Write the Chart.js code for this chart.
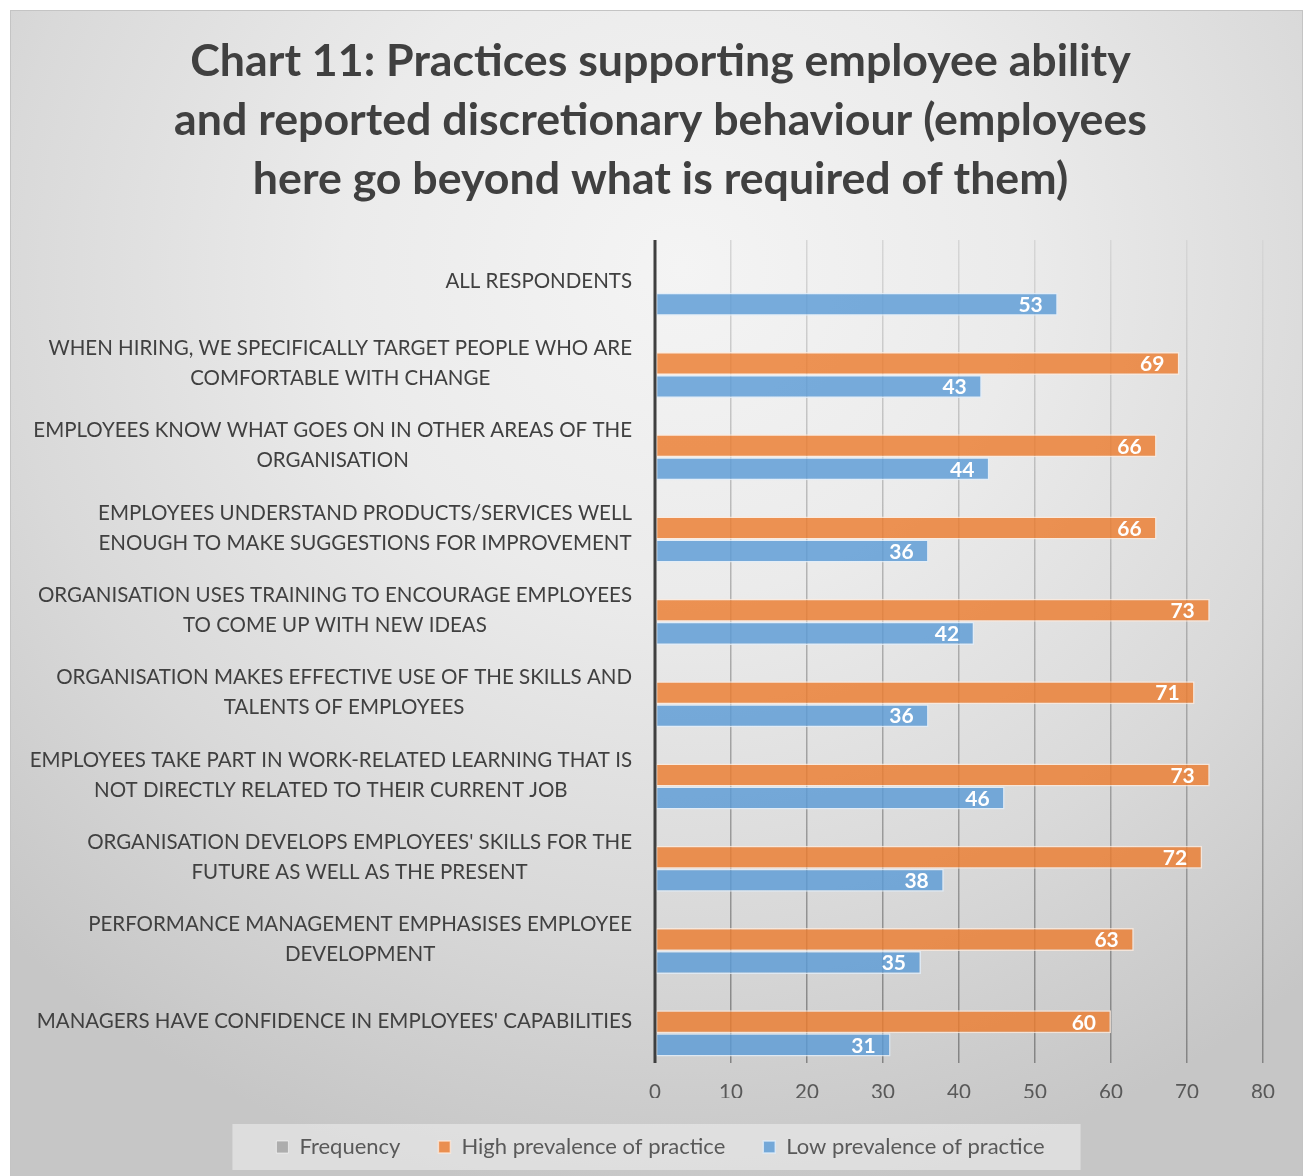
<!DOCTYPE html>
<html>
<head>
<meta charset="utf-8">
<title>Chart 11</title>
<script src="https://cdn.jsdelivr.net/npm/chart.js@4.4.1/dist/chart.umd.min.js"></script>
<style>
  html, body { margin: 0; padding: 0; background: #ffffff; }
  #frame {
    position: absolute; left: 10px; top: 10px; width: 1293px; height: 1170px;
    border: 1px solid #c4c4c4; box-sizing: border-box;
    background: radial-gradient(ellipse 75% 80% at 52% 22%, #f4f4f4 0%, #ebebeb 35%, #d9d9d9 70%, #c6c6c6 100%);
  }
  #wrap { position: absolute; left: 0; top: 0; width: 1309px; height: 1176px; }
</style>
</head>
<body>
<div id="frame"></div>
<div id="wrap"><canvas id="chart" width="1309" height="1176"></canvas></div>
<script>
// Chart 11: practices supporting employee ability vs. discretionary behaviour
const titleLines = [
  'Chart 11: Practices supporting employee ability',
  'and reported discretionary behaviour (employees',
  'here go beyond what is required of them)'
];

const categories = [
  ['ALL RESPONDENTS'],
  ['WHEN HIRING, WE SPECIFICALLY TARGET PEOPLE WHO ARE', 'COMFORTABLE WITH CHANGE'],
  ['EMPLOYEES KNOW WHAT GOES ON IN OTHER AREAS OF THE', 'ORGANISATION'],
  ['EMPLOYEES UNDERSTAND PRODUCTS/SERVICES WELL', 'ENOUGH TO MAKE SUGGESTIONS FOR IMPROVEMENT'],
  ['ORGANISATION USES TRAINING TO ENCOURAGE EMPLOYEES', 'TO COME UP WITH NEW IDEAS'],
  ['ORGANISATION MAKES EFFECTIVE USE OF THE SKILLS AND', 'TALENTS OF EMPLOYEES'],
  ['EMPLOYEES TAKE PART IN WORK-RELATED LEARNING THAT IS', 'NOT DIRECTLY RELATED TO THEIR CURRENT JOB'],
  ["ORGANISATION DEVELOPS EMPLOYEES' SKILLS FOR THE", 'FUTURE AS WELL AS THE PRESENT'],
  ['PERFORMANCE MANAGEMENT EMPHASISES EMPLOYEE', 'DEVELOPMENT'],
  ["MANAGERS HAVE CONFIDENCE IN EMPLOYEES' CAPABILITIES"]
];

const seriesNames = ['Frequency', 'High prevalence of practice', 'Low prevalence of practice'];
const frequency = [null, null, null, null, null, null, null, null, null, null];
const highPrevalence = [null, 69, 66, 66, 73, 71, 73, 72, 63, 60];
const lowPrevalence = [53, 43, 44, 36, 42, 36, 46, 38, 35, 31];

const xTicks = [0, 10, 20, 30, 40, 50, 60, 70, 80];

const FONT = 'Lato, "Open Sans", sans-serif';

// Vertical gradient for the value gridlines (pale at the top, darker at the bottom)
function gridGradient(ctx) {
  const chart = ctx.chart;
  const area = chart.chartArea;
  if (!area) return '#bbbbbb';
  const g = chart.ctx.createLinearGradient(0, area.top, 0, area.bottom);
  g.addColorStop(0, '#d6d6d6');
  g.addColorStop(0.5, '#ababab');
  g.addColorStop(1, '#848484');
  return g;
}

// Category labels: each block right-aligned to the axis, its lines centred on each other
const categoryLabelPlugin = {
  id: 'categoryLabels',
  afterDraw(chart) {
    const y = chart.scales.y;
    const ctx = chart.ctx;
    const right = chart.chartArea.left - 23;
    const lineGap = 30;
    ctx.save();
    ctx.font = '20.5px ' + FONT;
    ctx.fillStyle = '#404040';
    ctx.textAlign = 'center';
    ctx.textBaseline = 'middle';
    categories.forEach((lines, i) => {
      const cy = y.getPixelForTick(i);
      const w = Math.max(...lines.map(l => ctx.measureText(l).width));
      const cx = right - w / 2;
      const y0 = cy - (lines.length - 1) * lineGap / 2;
      lines.forEach((l, k) => ctx.fillText(l, cx, y0 + k * lineGap));
    });
    ctx.restore();
  }
};

// Value labels inside the end of each bar
const valueLabelPlugin = {
  id: 'valueLabels',
  afterDatasetsDraw(chart) {
    const ctx = chart.ctx;
    ctx.save();
    ctx.font = 'bold 21px ' + FONT;
    ctx.fillStyle = '#ffffff';
    ctx.textAlign = 'right';
    ctx.textBaseline = 'middle';
    chart.data.datasets.forEach((ds, di) => {
      const meta = chart.getDatasetMeta(di);
      meta.data.forEach((bar, i) => {
        const v = ds.data[i];
        if (v === null || v === undefined) return;
        ctx.fillText(String(v), bar.x - 15, bar.y + 1);
      });
    });
    ctx.restore();
  }
};

// Panel behind the legend entries
const legendPanelPlugin = {
  id: 'legendPanel',
  beforeDraw(chart) {
    const lg = chart.legend;
    if (!lg || !lg.legendHitBoxes || !lg.legendHitBoxes.length) return;
    const boxes = lg.legendHitBoxes;
    const l = Math.min(...boxes.map(b => b.left)) - 44;
    const r = Math.max(...boxes.map(b => b.left + b.width)) + 36;
    const cy = boxes[0].top + boxes[0].height / 2;
    const ctx = chart.ctx;
    ctx.save();
    ctx.fillStyle = 'rgba(240,240,240,0.55)';
    ctx.fillRect(l, cy - 23, r - l, 46);
    ctx.restore();
  }
};

// Dark vertical category axis line
const axisLinePlugin = {
  id: 'axisLine',
  afterDatasetsDraw(chart) {
    const a = chart.chartArea;
    const ctx = chart.ctx;
    ctx.save();
    ctx.strokeStyle = '#3f3f3f';
    ctx.lineWidth = 3;
    ctx.beginPath();
    ctx.moveTo(a.left, a.top);
    ctx.lineTo(a.left, a.bottom);
    ctx.stroke();
    ctx.restore();
  }
};

new Chart(document.getElementById('chart'), {
  type: 'bar',
  data: {
    labels: categories,
    datasets: [
      {
        label: seriesNames[0], data: frequency,
        backgroundColor: 'rgba(165,165,165,0.85)', borderColor: 'rgba(255,255,255,0.55)', borderWidth: 1
      },
      {
        label: seriesNames[1], data: highPrevalence,
        backgroundColor: 'rgba(236,124,48,0.82)', borderColor: 'rgba(255,235,220,0.75)', borderWidth: 1.5
      },
      {
        label: seriesNames[2], data: lowPrevalence,
        backgroundColor: 'rgba(91,155,213,0.82)', borderColor: 'rgba(225,238,250,0.8)', borderWidth: 1.5
      }
    ]
  },
  options: {
    indexAxis: 'y',
    responsive: false,
    animation: false,
    devicePixelRatio: 1,
    layout: { padding: { top: 32, left: 58, right: 46, bottom: 8 } },
    datasets: {
      bar: { categoryPercentage: 0.84, barPercentage: 1.0, borderSkipped: false }
    },
    scales: {
      x: {
        min: 0, max: 80,
        afterBuildTicks(scale) { scale.ticks = xTicks.map(v => ({ value: v })); },
        afterFit(scale) { scale.height = 35; },
        grid: { color: gridGradient, lineWidth: 1.5, drawTicks: false },
        border: { display: false },
        ticks: { color: '#595959', font: { family: FONT, size: 20.5 }, padding: 17 }
      },
      y: {
        afterFit(scale) { scale.width = 597; },
        grid: { display: false },
        border: { display: false },
        ticks: { color: 'rgba(0,0,0,0)', font: { family: FONT, size: 19 } }
      }
    },
    plugins: {
      title: {
        display: true,
        text: titleLines,
        color: '#404040',
        font: { family: FONT, size: 44.7, weight: 'bold', lineHeight: 59 / 44.7 },
        padding: { top: 0, bottom: 31 }
      },
      legend: {
        position: 'bottom',
        labels: {
          color: '#595959',
          font: { family: FONT, size: 22 },
          boxWidth: 12, boxHeight: 12,
          padding: 38
        }
      },
      tooltip: { enabled: false }
    }
  },
  plugins: [legendPanelPlugin, categoryLabelPlugin, valueLabelPlugin, axisLinePlugin]
});
</script>
</body>
</html>
